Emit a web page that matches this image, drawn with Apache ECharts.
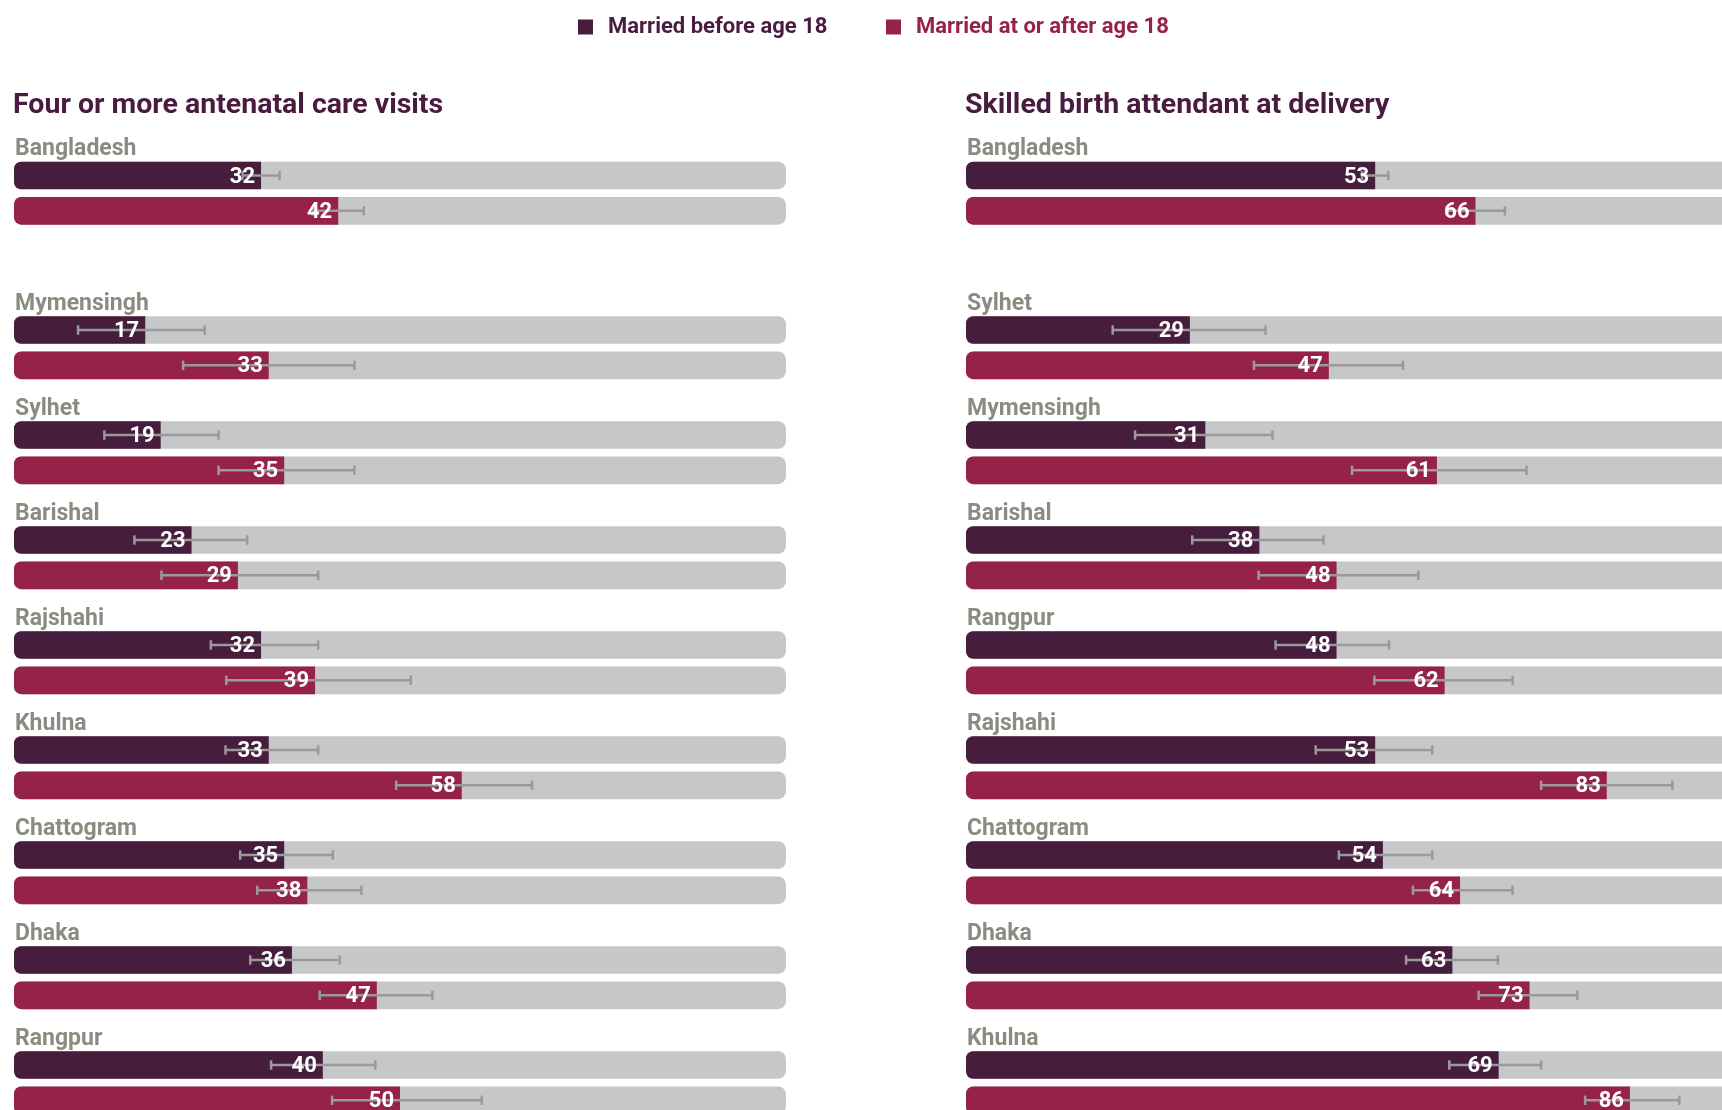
<!DOCTYPE html>
<html>
<head>
<meta charset="utf-8">
<script src="https://cdn.jsdelivr.net/npm/echarts@6/dist/echarts.min.js"></script>
<style>
  html, body { margin: 0; padding: 0; background: #fff; }
  #chart { width: 1722px; height: 1110px; }
</style>
</head>
<body>
<div id="chart"></div>
<script>
  // legend / series names
  var seriesNames = ['Married before age 18', 'Married at or after age 18'];

  // panel 1: four or more antenatal care visits (first row = national)
  var ancTitle = 'Four or more antenatal care visits';
  var ancRegions = ['Bangladesh', 'Mymensingh', 'Sylhet', 'Barishal', 'Rajshahi', 'Khulna', 'Chattogram', 'Dhaka', 'Rangpur'];
  var ancBefore = [32, 17, 19, 23, 32, 33, 35, 36, 40];
  var ancBeforeLow = [29.6, 8.3, 11.7, 15.6, 25.5, 27.4, 29.3, 30.6, 33.3];
  var ancBeforeHigh = [34.4, 24.7, 26.5, 30.2, 39.4, 39.4, 41.3, 42.2, 46.8];
  var ancAfter = [42, 33, 35, 29, 39, 58, 38, 47, 50];
  var ancAfterLow = [38.7, 21.9, 26.5, 19.1, 27.5, 49.5, 31.5, 39.6, 41.2];
  var ancAfterHigh = [45.3, 44.1, 44.1, 39.4, 51.4, 67.1, 45.0, 54.2, 60.6];

  // panel 2: skilled birth attendant at delivery
  var sbaTitle = 'Skilled birth attendant at delivery';
  var sbaRegions = ['Bangladesh', 'Sylhet', 'Mymensingh', 'Barishal', 'Rangpur', 'Rajshahi', 'Chattogram', 'Dhaka', 'Khulna'];
  var sbaBefore = [53, 29, 31, 38, 48, 53, 54, 63, 69];
  var sbaBeforeLow = [51.3, 19.0, 21.9, 29.3, 40.1, 45.3, 48.3, 57.0, 62.6];
  var sbaBeforeHigh = [54.7, 38.8, 39.7, 46.3, 54.8, 60.4, 60.4, 68.9, 74.5];
  var sbaAfter = [66, 47, 61, 48, 62, 83, 64, 73, 86];
  var sbaAfterLow = [62.2, 37.3, 50.0, 37.9, 52.9, 74.5, 57.9, 66.4, 80.2];
  var sbaAfterHigh = [69.8, 56.6, 72.6, 58.6, 70.8, 91.5, 70.8, 79.2, 92.4];

  var colors = ['#461d3d', '#962247'];
  var trackColor = '#c6c7c9';
  var errColor = '#9a9a9a';
  var labelGray = '#8b8c81';
  var titleColor = '#4a1b41';
  var font = 'Roboto';

  var panels = [
    { title: ancTitle, regions: ancRegions, before: ancBefore, bLow: ancBeforeLow, bHigh: ancBeforeHigh,
      after: ancAfter, aLow: ancAfterLow, aHigh: ancAfterHigh, left: 14 },
    { title: sbaTitle, regions: sbaRegions, before: sbaBefore, bLow: sbaBeforeLow, bHigh: sbaBeforeHigh,
      after: sbaAfter, aLow: sbaAfterLow, aHigh: sbaAfterHigh, left: 966 }
  ];

  var panelWidth = 772;
  var slot = 35.3;
  var barW = 27.7;

  // first bar centre of each group
  function groupCenter(i) {
    return i === 0 ? 175.5 : 330 + (i - 1) * 105;
  }

  function renderErr(params, api) {
    var cat = api.value(0);
    var v = api.value(1);
    var p0 = api.coord([api.value(2), cat]);
    var p1 = api.coord([api.value(3), cat]);
    var pv = api.coord([v, cat]);
    var y = p0[1];
    var h = 4.7;
    var ls = { stroke: errColor, lineWidth: 2.5 };
    return {
      type: 'group',
      children: [
        { type: 'line', shape: { x1: p0[0], y1: y, x2: p1[0], y2: y }, style: ls },
        { type: 'line', shape: { x1: p0[0], y1: y - h, x2: p0[0], y2: y + h }, style: ls },
        { type: 'line', shape: { x1: p1[0], y1: y - h, x2: p1[0], y2: y + h }, style: ls },
        { type: 'text', x: pv[0] - 6, y: y + 1.5,
          style: { text: String(v), fill: '#fff', font: 'bold 22px ' + font, align: 'right', verticalAlign: 'middle' } }
      ]
    };
  }

  var grids = [], xAxes = [], yAxes = [], series = [], graphics = [];

  panels.forEach(function (p) {
    graphics.push({
      type: 'text', x: p.left - 1, y: 106,
      style: { text: p.title, fill: titleColor, font: 'bold 28.5px ' + font, verticalAlign: 'middle' }
    });
    p.regions.forEach(function (name, i) {
      var c = groupCenter(i);
      var gi = grids.length;
      grids.push({ left: p.left, width: panelWidth, top: c - slot / 2, height: slot * 2, outerBoundsMode: 'none' });
      xAxes.push({ type: 'value', gridIndex: gi, min: 0, max: 100, show: false });
      yAxes.push({ type: 'category', gridIndex: gi, data: ['before', 'after'], inverse: true, show: false });
      series.push({
        name: seriesNames[0], type: 'bar', xAxisIndex: gi, yAxisIndex: gi,
        data: [p.before[i], '-'], barWidth: barW, barGap: '-100%',
        showBackground: true,
        backgroundStyle: { color: trackColor, borderRadius: 8 },
        itemStyle: { color: colors[0], borderRadius: [7, 0, 0, 7] },
        emphasis: { disabled: true }, silent: true
      });
      series.push({
        name: seriesNames[1], type: 'bar', xAxisIndex: gi, yAxisIndex: gi,
        data: ['-', p.after[i]], barWidth: barW, barGap: '-100%',
        itemStyle: { color: colors[1], borderRadius: [7, 0, 0, 7] },
        emphasis: { disabled: true }, silent: true
      });
      series.push({
        type: 'custom', xAxisIndex: gi, yAxisIndex: gi, z: 5, silent: true,
        renderItem: renderErr,
        encode: { x: [1, 2, 3], y: 0 },
        data: [[0, p.before[i], p.bLow[i], p.bHigh[i]], [1, p.after[i], p.aLow[i], p.aHigh[i]]]
      });
      graphics.push({
        type: 'text', x: p.left + 1, y: c - 26,
        style: { text: name, fill: labelGray, font: 'bold 23px ' + font, verticalAlign: 'middle' }
      });
    });
  });

  function legendFor(i, left) {
    return {
      data: [{ name: seriesNames[i], textStyle: { color: i === 0 ? titleColor : colors[1] } }],
      left: left, top: 16, padding: 0,
      icon: 'rect', itemWidth: 15, itemHeight: 15,
      selectedMode: false,
      textStyle: { fontSize: 22, fontWeight: 'bold', fontFamily: font, padding: [0, 0, 0, 10] }
    };
  }

  var chart = echarts.init(document.getElementById('chart'));
  chart.setOption({
    animation: false,
    backgroundColor: '#fff',
    legend: [legendFor(0, 578), legendFor(1, 886)],
    grid: grids,
    xAxis: xAxes,
    yAxis: yAxes,
    series: series,
    graphic: graphics
  });
</script>
</body>
</html>
